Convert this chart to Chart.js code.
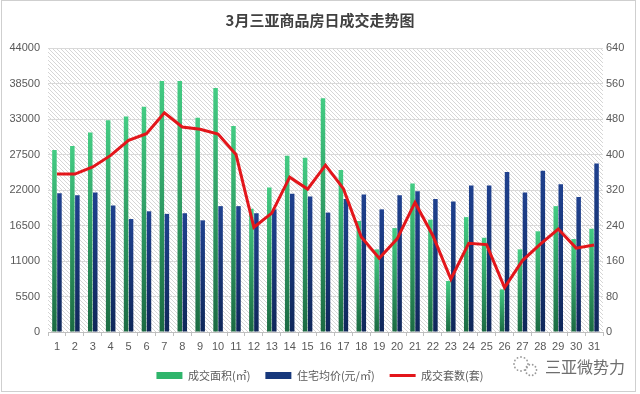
<!DOCTYPE html>
<html>
<head>
<meta charset="utf-8">
<script src="https://cdn.jsdelivr.net/npm/chart.js@4"></script>
<style>
  html, body { margin: 0; padding: 0; background: #fff; }
  #wrap { width: 640px; height: 394px; position: relative; }
</style>
</head>
<body>
<div id="wrap"><canvas id="chart" width="640" height="394"></canvas></div>
<script>
// daily data
const days = ['1','2','3','4','5','6','7','8','9','10','11','12','13','14','15','16',
  '17','18','19','20','21','22','23','24','25','26','27','28','29','30','31'];
const dealArea = [28200, 28800, 30900, 32800, 33400, 34900, 38900, 38900, 33200, 37800, 31900,
  19100, 22400, 27300, 27000, 36200, 25100, 17200, 12800, 16100, 23000, 17400, 7900, 17800,
  14600, 6600, 12800, 15600, 19500, 14400, 16000];
const avgPrice = [21500, 21200, 21600, 19600, 17500, 18700, 18300, 18400, 17300, 19500, 19500,
  18400, 19000, 21400, 21000, 18500, 20600, 21300, 19000, 21200, 21800, 20600, 20200, 22700,
  22700, 24800, 21600, 25000, 22900, 20900, 26100];
const dealUnits = [356, 356, 372, 398, 432, 447, 494, 462, 457, 446, 400, 236, 268, 349, 322,
  376, 323, 214, 166, 210, 292, 217, 119, 200, 197, 100, 161, 198, 232, 189, 196];
const leftTicks = [0, 5500, 11000, 16500, 22000, 27500, 33000, 38500, 44000];
const rightTicks = [0, 80, 160, 240, 320, 400, 480, 560, 640];

const cjk = '"Noto Sans CJK SC", "Liberation Sans", sans-serif';
const num = '"Liberation Sans", "Noto Sans CJK SC", sans-serif';

// vertical gradient per bar, from its top down to the baseline
const barGradient = (top, bottom) => (ctx) => {
  const chart = ctx.chart;
  const area = chart.chartArea;
  if (!area || ctx.type !== 'data') return top;
  const y0 = chart.scales.y.getPixelForValue(ctx.raw);
  const g = chart.ctx.createLinearGradient(0, y0, 0, area.bottom);
  g.addColorStop(0, top);
  g.addColorStop(1, bottom);
  return g;
};

const makeHatch = () => {
  const c = document.createElement('canvas');
  c.width = 4; c.height = 4;
  const p = c.getContext('2d');
  p.strokeStyle = '#d6d6d6';
  p.lineWidth = 1;
  p.beginPath();
  p.moveTo(-1, -1); p.lineTo(5, 5);
  p.moveTo(-1, 3); p.lineTo(1, 5);
  p.moveTo(3, -1); p.lineTo(5, 1);
  p.stroke();
  return c;
};

const backdrop = {
  id: 'backdrop',
  beforeDraw(chart) {
    const { ctx, chartArea: a } = chart;
    ctx.save();
    ctx.fillStyle = '#fff';
    ctx.fillRect(0, 0, chart.width, chart.height);
    ctx.fillStyle = ctx.createPattern(makeHatch(), 'repeat');
    ctx.fillRect(a.left, a.top, a.right - a.left, a.bottom - a.top);
    ctx.restore();
  },
  afterDraw(chart) {
    const ctx = chart.ctx;
    ctx.save();
    // frame
    ctx.strokeStyle = '#cfcfcf';
    ctx.lineWidth = 1;
    ctx.strokeRect(1.5, 0.5, 634, 391);
    // watermark
    ctx.fillStyle = '#9a9a9a';
    const dots = (cx, cy, r, n) => {
      for (let i = 0; i < n; i++) {
        const t = i / n * Math.PI * 2;
        ctx.beginPath();
        ctx.arc(cx + r * Math.cos(t), cy + r * Math.sin(t), 0.9, 0, Math.PI * 2);
        ctx.fill();
      }
    };
    dots(521, 364, 7, 12);
    dots(531, 370, 5.5, 10);
    ctx.fillStyle = '#6e6e6e';
    ctx.font = '16px ' + cjk;
    ctx.textBaseline = 'middle';
    ctx.fillText('三亚微势力', 545, 367);
    ctx.restore();
  }
};

const legendColors = ['#2fb56b', '#17387c', '#e3161b'];

new Chart(document.getElementById('chart'), {
  data: {
    labels: days,
    datasets: [
      {
        type: 'bar',
        label: '成交面积(㎡)',
        data: dealArea,
        yAxisID: 'y',
        order: 2,
        backgroundColor: barGradient('#43cc83', '#1b6a42'),
        categoryPercentage: 0.56,
        barPercentage: 0.9
      },
      {
        type: 'bar',
        label: '住宅均价(元/㎡)',
        data: avgPrice,
        yAxisID: 'y',
        order: 2,
        backgroundColor: barGradient('#1f418f', '#0f2759'),
        categoryPercentage: 0.56,
        barPercentage: 0.9
      },
      {
        type: 'line',
        label: '成交套数(套)',
        data: dealUnits,
        yAxisID: 'y1',
        order: 0,
        borderColor: '#e3161b',
        backgroundColor: '#e3161b',
        borderWidth: 3,
        pointRadius: 0,
        tension: 0
      }
    ]
  },
  options: {
    responsive: false,
    animation: false,
    layout: { padding: { left: 0, right: 0, top: 0, bottom: 3 } },
    plugins: {
      title: {
        display: true,
        text: '3月三亚商品房日成交走势图',
        color: '#404040',
        font: { family: cjk, size: 15, weight: 'bold' },
        padding: { top: 11, bottom: 19 }
      },
      legend: {
        position: 'bottom',
        labels: {
          usePointStyle: true,
          pointStyleWidth: 26,
          boxHeight: 7,
          padding: 15,
          color: '#595959',
          font: { family: cjk, size: 11 },
          generateLabels(chart) {
            const items = Chart.defaults.plugins.legend.labels.generateLabels(chart);
            items.sort((a, b) => a.datasetIndex - b.datasetIndex);
            return items.map((it) => {
              const i = it.datasetIndex;
              it.fillStyle = legendColors[i];
              it.strokeStyle = legendColors[i];
              it.pointStyle = i === 2 ? 'line' : 'rect';
              it.lineWidth = i === 2 ? 3 : 0;
              return it;
            });
          }
        }
      },
      tooltip: { enabled: false }
    },
    scales: {
      x: {
        grid: { display: true, drawOnChartArea: false, color: '#bfbfbf', tickLength: 4 },
        border: { color: '#bfbfbf' },
        ticks: { color: '#595959', font: { family: num, size: 11 }, padding: 4, autoSkip: false, maxRotation: 0 },
        afterFit(scale) { scale.height = 23; }
      },
      y: {
        position: 'left',
        min: 0,
        max: 44000,
        grid: { color: '#d9d9d9', drawTicks: false },
        border: { display: false },
        ticks: {
          color: '#595959', font: { family: num, size: 11 }, padding: 8,
          callback: (v) => String(v)
        },
        afterBuildTicks(scale) { scale.ticks = leftTicks.map(v => ({ value: v })); },
        afterFit(scale) { scale.width = 48; }
      },
      y1: {
        position: 'right',
        min: 0,
        max: 640,
        grid: { display: false, drawTicks: false },
        border: { display: false },
        ticks: {
          color: '#595959', font: { family: num, size: 11 }, padding: 3,
          callback: (v) => String(v)
        },
        afterBuildTicks(scale) { scale.ticks = rightTicks.map(v => ({ value: v })); },
        afterFit(scale) { scale.width = 37; }
      }
    }
  },
  plugins: [backdrop]
});
</script>
</body>
</html>
